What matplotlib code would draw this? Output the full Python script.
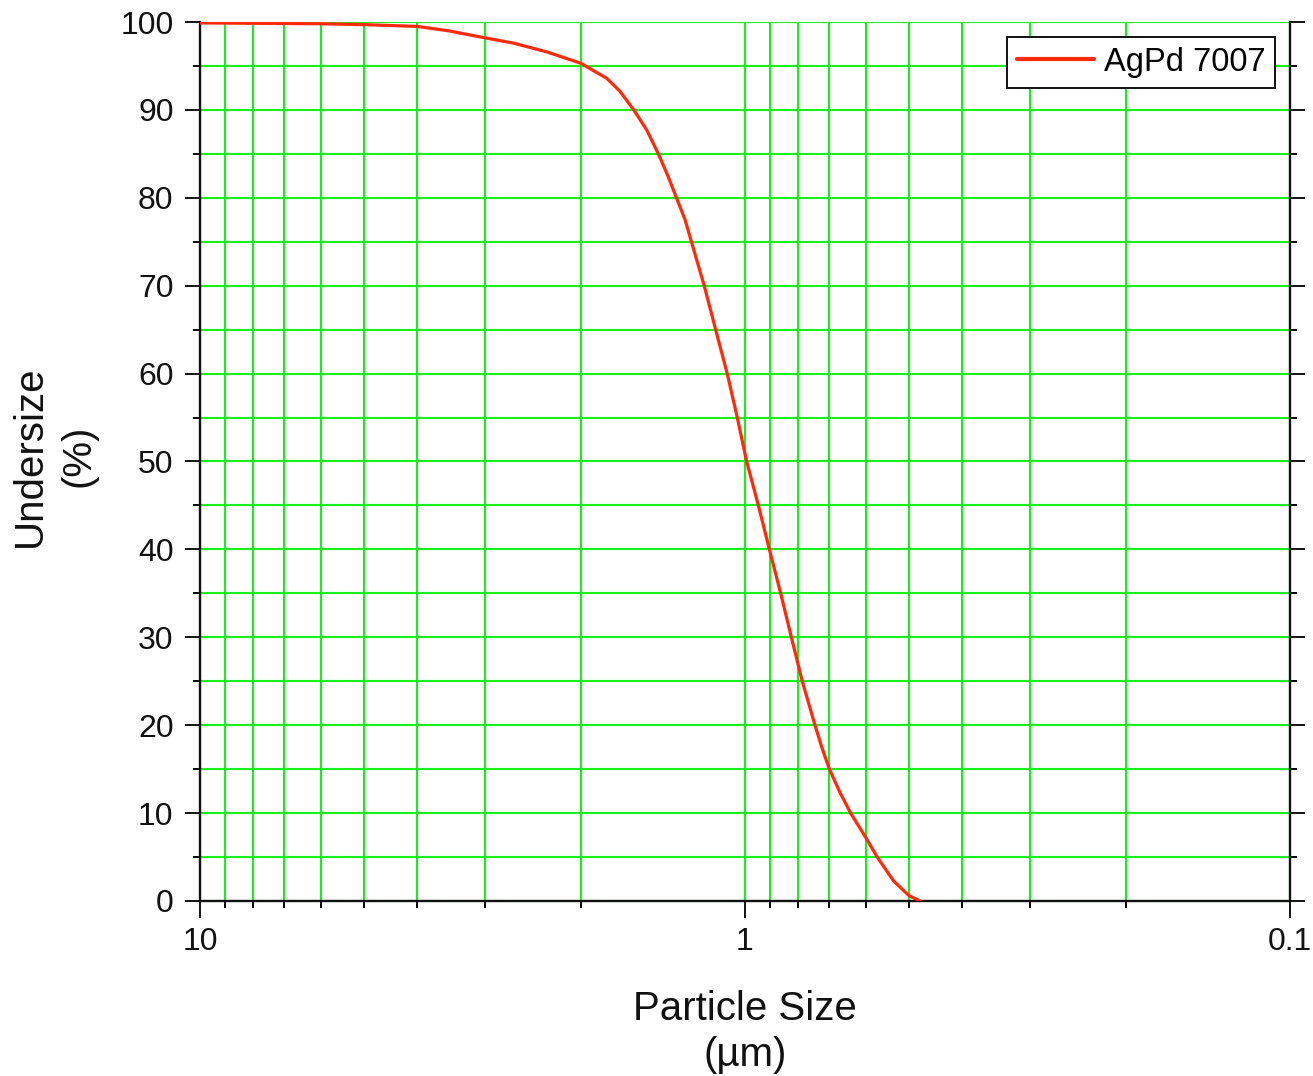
import matplotlib
matplotlib.use("Agg")
import matplotlib.pyplot as plt
from matplotlib.ticker import FixedLocator, FixedFormatter, MultipleLocator, NullFormatter, LogLocator

plt.rcParams['font.family'] = ['Liberation Sans', 'DejaVu Sans']

# Data (particle size in µm, cumulative undersize in %)
particle_size = [10.0, 8.0, 6.0, 5.0, 4.0, 3.5, 3.06, 2.66, 2.31, 2.0, 1.794, 1.695,
                 1.60, 1.514, 1.442, 1.383, 1.334, 1.288, 1.254, 1.188, 1.132, 1.078,
                 1.033, 0.993, 0.945, 0.902, 0.860, 0.822, 0.785, 0.744, 0.723, 0.700,
                 0.670, 0.640, 0.600, 0.572, 0.534, 0.500, 0.477]
undersize = [99.9, 99.85, 99.8, 99.7, 99.5, 99.0, 98.3, 97.6, 96.6, 95.3, 93.6, 92.1,
             90.0, 87.7, 85.0, 82.4, 79.9, 77.5, 75.0, 70.0, 65.0, 60.0,
             55.0, 50.0, 45.0, 40.0, 35.0, 30.0, 25.0, 20.0, 17.5, 15.0,
             12.4, 10.0, 7.2, 5.0, 2.3, 0.6, 0.0]
series_name = "AgPd 7007"
x_major_ticks = [10, 1, 0.1]
x_tick_labels = ["10", "1", "0.1"]
y_ticks = [0, 10, 20, 30, 40, 50, 60, 70, 80, 90, 100]

W, H = 1313, 1076
fig = plt.figure(figsize=(W / 100, H / 100), dpi=100)
ax = fig.add_axes([200 / W, 1 - 901 / H, (1290 - 200) / W, (901 - 22) / H])

ax.plot(particle_size, undersize, color='#ff2a0a', lw=2.3, label=series_name,
        solid_capstyle='round', solid_joinstyle='round', zorder=3)

ax.set_xscale('log')
ax.set_xlim(10, 0.1)
ax.set_ylim(0, 100)

ax.xaxis.set_major_locator(FixedLocator(x_major_ticks))
ax.xaxis.set_major_formatter(FixedFormatter(x_tick_labels))
ax.xaxis.set_minor_locator(LogLocator(base=10, subs=range(2, 10)))
ax.xaxis.set_minor_formatter(NullFormatter())
ax.yaxis.set_major_locator(FixedLocator(y_ticks))
ax.yaxis.set_minor_locator(MultipleLocator(5))

green = '#19f019'
ax.grid(True, which='both', axis='both', color=green, lw=1.5, zorder=1)
ax.set_axisbelow(True)

ax.spines['top'].set_visible(False)
for s in ['left', 'right', 'bottom']:
    ax.spines[s].set_linewidth(1.7)
    ax.spines[s].set_color('#111111')

ax.tick_params(axis='y', which='major', direction='out', length=11, width=1.4,
               left=True, right=True, labelsize=23, pad=8, colors='#111111')
ax.tick_params(axis='y', which='minor', direction='out', length=5, width=1.4,
               left=True, right=True)
ax.tick_params(axis='x', which='major', direction='out', length=12, width=1.4,
               labelsize=23, pad=7, colors='#111111')
ax.tick_params(axis='x', which='minor', direction='out', length=5, width=1.4)

fig.text(54 / W, 1 - 456 / H, "Undersize\n(%)", rotation=90, ha='center', va='center',
         ma='center', fontsize=29, linespacing=1.35, color='#111111')
fig.text(745 / W, 1 - 1032 / H, "Particle Size\n(µm)", ha='center', va='center',
         ma='center', fontsize=29, linespacing=1.3, color='#111111')

leg = ax.legend(loc='upper right', bbox_to_anchor=(1275 / W, 1 - 37 / H),
                bbox_transform=fig.transFigure, fontsize=23.5, frameon=True,
                fancybox=False, borderaxespad=0, handlelength=2.35,
                handletextpad=0.3, borderpad=0.3)
leg.get_frame().set_edgecolor('#111111')
leg.get_frame().set_linewidth(1.4)
leg.get_frame().set_alpha(1)
for line in leg.get_lines():
    line.set_linewidth(3)

fig.savefig('out.png', dpi=100)
